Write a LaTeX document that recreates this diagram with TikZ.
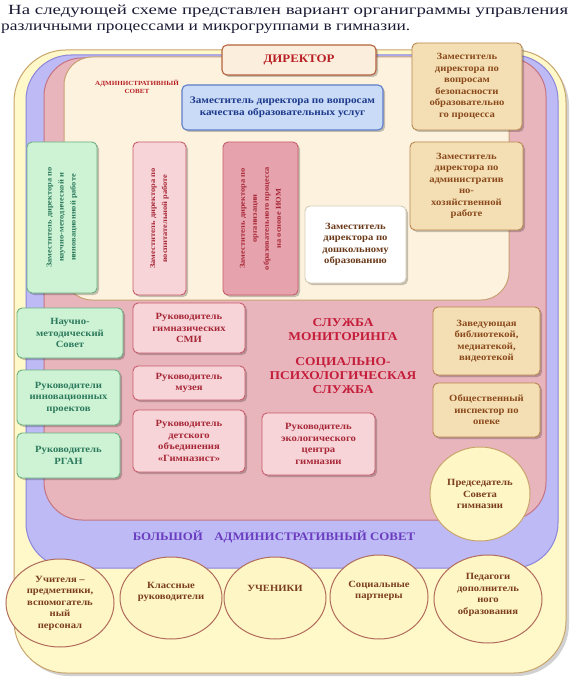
\documentclass[tikz,border=0pt]{standalone}
\usepackage{fontspec}
\setmainfont{Liberation Serif}[FakeStretch=1.12]
\usetikzlibrary{shapes.geometric,shadows}
\definecolor{yelF}{HTML}{FFF8C8}
\definecolor{yelD}{HTML}{C9A56E}
\definecolor{bluF}{HTML}{BDBAF5}
\definecolor{bluD}{HTML}{8C86DC}
\definecolor{pinkF}{HTML}{E8B5BD}
\definecolor{pinkD}{HTML}{C47582}
\definecolor{creamF}{HTML}{FCF2DE}
\definecolor{creamD}{HTML}{C8A074}
\definecolor{grnF}{HTML}{CDF3D4}
\definecolor{grnD}{HTML}{6CAF80}
\definecolor{grnT}{HTML}{2E7A5E}
\definecolor{pkF}{HTML}{F6D4D8}
\definecolor{pkD}{HTML}{C85C6A}
\definecolor{pkT}{HTML}{A82838}
\definecolor{dpkF}{HTML}{E6A3AD}
\definecolor{tanF}{HTML}{F4DFB4}
\definecolor{tanD}{HTML}{B98550}
\definecolor{tanT}{HTML}{8A4A1C}
\definecolor{qbF}{HTML}{C9DBF6}
\definecolor{qbD}{HTML}{5E7DC8}
\definecolor{qbT}{HTML}{1E3A8C}
\definecolor{dirF}{HTML}{FCEEDC}
\definecolor{dirD}{HTML}{B4623E}
\definecolor{dirT}{HTML}{B82025}
\definecolor{whD}{HTML}{D6CDB8}
\definecolor{whT}{HTML}{6B3A1A}
\definecolor{cirF}{HTML}{FFF6C6}
\definecolor{cirD}{HTML}{B06C5C}
\definecolor{cirT}{HTML}{7A3E1C}
\definecolor{redT}{HTML}{C41E3A}
\definecolor{purT}{HTML}{6A3CC0}
\definecolor{titT}{HTML}{1A1A34}
\newcommand\bxf{\bfseries\fontsize{9.5}{11.5}\selectfont}
\newcommand\rtf{\bfseries\fontsize{7.5}{12}\selectfont}
\newcommand\uptext[2]{\raisebox{#1}[0pt][0pt]{\begin{tabular}{@{}c@{}}#2\end{tabular}}}
\begin{document}
\begin{tikzpicture}[x=1pt,y=-1pt,
  layer/.style={line width=1pt},
  box/.style={draw, rounded corners=5pt, line width=0.9pt, align=center, inner sep=1pt, font=\bxf},
  shad/.style={drop shadow={shadow xshift=2pt, shadow yshift=-2pt, opacity=0.22, fill=black}},
  bb/.style n args={4}{at={({(#1+#3)/2},{(#2+#4)/2})}, minimum width={(#3-#1)*1pt}, minimum height={(#4-#2)*1pt}},
  bbr/.style n args={4}{at={({(#1+#3)/2},{(#2+#4)/2})}, minimum width={(#4-#2)*1pt}, minimum height={(#3-#1)*1pt}, rotate=90, font=\rtf},
  grn/.style={box, shad, fill=grnF, draw=grnD, text=grnT},
  pnk/.style={box, shad, fill=pkF, draw=pkD, text=pkT},
  dpnk/.style={box, shad, fill=dpkF, draw=pkD, text=pkT},
  tan/.style={box, shad, fill=tanF, draw=tanD, text=tanT},
  qual/.style={box, shad, fill=qbF, draw=qbD, text=qbT, line width=1.1pt},
  dirbox/.style={box, shad, fill=dirF, draw=dirD, text=dirT, line width=1.1pt},
  whbox/.style={box, shad, fill=white, draw=whD, text=whT},
  circ/.style={ellipse, draw=cirD, line width=1pt, fill=cirF, text=cirT, align=center, inner sep=0pt, font=\bxf},
  pcirc/.style={circ, draw=yelD},
  serv/.style={text=redT, align=center, font=\bfseries\fontsize{12}{14}\selectfont},
  title/.style={text=titT, inner sep=0pt, font=\fontsize{14}{17}\selectfont}
]
\useasboundingbox (0,0) rectangle (573,679);
% title
\node[title, anchor=base west] (t1) at (8,15) {\resizebox{560pt}{\height}{На следующей схеме представлен вариант органиграммы управления}};
\node[title, anchor=base west] (t2) at (1,31) {\resizebox{409pt}{\height}{различными процессами и микрогруппами в гимназии.}};
% layers
\fill[black, opacity=0.18, rounded corners=52pt] (17,54) rectangle (569,676);
\path[layer, fill=yelF, draw=yelD, rounded corners=52pt] (14,50) rectangle (566,673);
\path[layer, fill=bluF, draw=bluD, rounded corners=45pt] (26,55) rectangle (558,568);
\path[layer, fill=pinkF, draw=pinkD, rounded corners=38pt] (44,58) rectangle (546,520);
\path[layer, fill=creamF, draw=creamD, rounded corners=28pt] (64,57) rectangle (509,300);
% admin council label
\node[text=dirT, align=center, inner sep=0pt, font=\bfseries\fontsize{6.3}{8}\selectfont] (adm) at (137,87) {АДМИНИСТРАТИВНЫЙ\\СОВЕТ};
% top boxes
\node[dirbox, bb={222}{45}{376}{75}, font=\bfseries\fontsize{11.5}{13}\selectfont] (dir) {ДИРЕКТОР};
\node[tan, bb={412}{43}{522}{130}] (safe) {Заместитель\\директора по\\вопросам\\безопасности\\образовательно\\го процесса};
\node[qual, bb={182}{85}{383}{130}, font=\bfseries\fontsize{10}{12.5}\selectfont] (qual) {Заместитель директора по вопросам\\качества образовательных услуг};
% vertical boxes
\node[grn, bbr={27}{142}{97}{293}] (gv) {Заместитель директора по\\научно-методической и\\инновационной работе};
\node[pnk, bbr={133}{142}{186}{295}] (pv) {Заместитель директора по\\воспитательной работе};
\node[dpnk, bbr={223}{142}{298}{295}] (dv) {Заместитель директора по\\организации\\образовательного процесса\\на основе ИОМ};
\node[whbox, bb={305}{206}{406}{283}] (pre) {Заместитель\\директора по\\дошкольному\\образованию};
\node[tan, bb={410}{142}{523}{230}] (ahr) {Заместитель\\директора по\\административ\\но-\\хозяйственной\\работе};
% left green column
\node[grn, bb={17}{308}{123}{358}] (nms) {Научно-\\методический\\Совет};
\node[grn, bb={17}{370}{120}{425}] (inn) {Руководители\\инновационных\\проектов};
\node[grn, bb={17}{433}{120}{478}] (rgan) {Руководитель\\РГАН};
% pink column
\node[pnk, bb={133}{303}{245}{353}] (smi) {Руководитель\\гимназических\\СМИ};
\node[pnk, bb={133}{366}{245}{400}] (muz) {Руководитель\\музея};
\node[pnk, bb={133}{410}{245}{472}] (gim) {Руководитель\\детского\\объединения\\«Гимназист»};
\node[pnk, bb={262}{413}{375}{475}] (eco) {Руководитель\\экологического\\центра\\гимназии};
% services
\node[serv] (mon) at (343,330) {СЛУЖБА\\МОНИТОРИНГА};
\node[serv] (psy) at (343,376) {СОЦИАЛЬНО-\\ПСИХОЛОГИЧЕСКАЯ\\СЛУЖБА};
% right tan
\node[tan, bb={433}{307}{540}{375}] (lib) {Заведующая\\библиотекой,\\медиатекой,\\видеотекой};
\node[tan, bb={433}{383}{540}{437}] (ope) {Общественный\\инспектор по\\опеке};
% chairman
\node[pcirc, minimum width=100pt, minimum height=94pt] (pred) at (480,494) {Председатель\\Совета\\гимназии};
% big council
\node[text=purT, inner sep=0pt, font=\bfseries\fontsize{11.5}{13}\selectfont] (big) at (274,537) {БОЛЬШОЙ\quad АДМИНИСТРАТИВНЫЙ СОВЕТ};
% bottom circles
\node[circ, minimum width=108pt, minimum height=88pt] (c1) at (60,603) {Учителя –\\предметники,\\вспомогатель\\ный\\персонал};
\node[circ, minimum width=102pt, minimum height=82pt] (c2) at (171,598) {\uptext{4pt}{Классные\\руководители}};
\node[circ, minimum width=102pt, minimum height=82pt] (c3) at (275,598) {\uptext{7pt}{УЧЕНИКИ}};
\node[circ, minimum width=98pt, minimum height=84pt] (c4) at (379,597) {\uptext{4pt}{Социальные\\партнеры}};
\node[circ, minimum width=108pt, minimum height=88pt] (c5) at (488,599) {\uptext{2pt}{Педагоги\\дополнитель\\ного\\образования}};
\end{tikzpicture}
\end{document}
